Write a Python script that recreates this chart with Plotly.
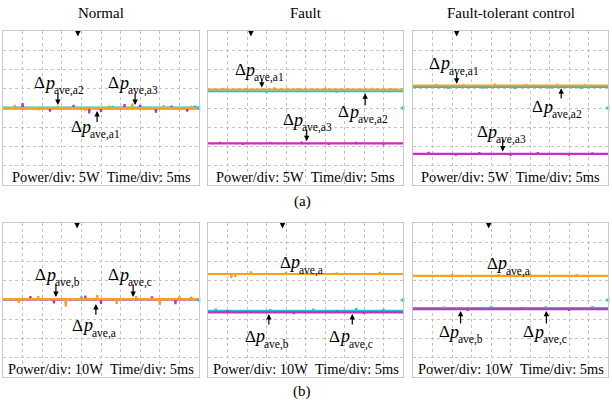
import plotly.graph_objects as go

# Each captured trace: a steady level (W) plus the visible noise spikes as (time ms, value W)
# (a) arm-level average power deviations, 5 W/div
normal_a1_level, normal_a1_spikes = 0.0, [(3, 0.8), (9, -0.6), (14, 0.5), (21, -0.7), (27, 0.6), (33, 1.2), (36, -0.5), (41, 0.7), (45, -0.6), (48, 0.5)]
normal_a2_level, normal_a2_spikes = 0.1, [(28, 0.5), (49, 0.6)]
normal_a3_level, normal_a3_spikes = -0.1, [(5, 1.3), (12, -0.9), (18, 0.8), (22, -1.4), (25, -1.0), (31, 1.0), (35, 0.8), (39, -1.2), (43, 0.6), (47, -0.9)]

fault_a1_level, fault_a1_spikes = 4.8, [(4, 5.2), (10, 5.1), (17, 5.3), (23, 5.1), (30, 5.2), (36, 5.1), (42, 5.2), (47, 5.1)]
fault_a2_level, fault_a2_spikes = 4.35, [(15, 4.0), (33, 4.1)]
fault_a3_level, fault_a3_spikes = -9.2, [(3, -8.9), (9, -9.5), (16, -8.9), (24, -8.8), (31, -9.5), (38, -8.9), (45, -9.4)]

ftc_a1_level, ftc_a1_spikes = 5.85, [(6, 6.2), (13, 6.1), (21, 6.3), (29, 6.1), (37, 6.2), (44, 6.1)]
ftc_a2_level, ftc_a2_spikes = 5.45, [(9, 5.0), (18, 5.1), (26, 5.0), (35, 5.1), (43, 5.0)]
ftc_a3_level, ftc_a3_spikes = -11.9, [(4, -11.4), (11, -12.3), (17, -11.5), (25, -12.4), (32, -11.5), (40, -12.3), (46, -11.6)]

# (b) phase-level average power deviations, 10 W/div
normal_a_level, normal_a_spikes = 0.5, [(4, -1.5), (9, 2.0), (16, -3.5), (24, 2.5), (29, -2.0), (34, 2.0), (40, -2.5), (45, 1.8)]
normal_b_level, normal_b_spikes = 0.5, [(20, 1.8), (48, 1.5)]
normal_c_level, normal_c_spikes = 0.3, [(7, 2.0), (13, -1.8), (21, 2.2), (25, -2.0), (38, 1.8), (44, -2.2)]

fault_a_level, fault_a_spikes = 13.5, [(6, 11.5), (7, 12.0), (11, 14.8), (20, 14.4), (33, 14.2), (44, 14.5)]
fault_b_level, fault_b_spikes = -5.7, [(2, -4.5), (16, -4.8), (27, -4.6), (38, -4.3), (45, -4.7)]
fault_c_level, fault_c_spikes = -6.4, [(5, -5.5), (22, -7.2), (33, -5.6), (40, -7.0)]

ftc_a_level, ftc_a_spikes = 12.5, [(10, 13.5), (22, 13.3), (30, 13.6), (42, 13.4)]
ftc_b_level, ftc_b_spikes = -4.2, [(8, -3.5), (20, -3.3), (34, -3.4), (46, -3.2)]
ftc_c_level, ftc_c_spikes = -4.8, [(14, -5.5), (28, -4.0), (40, -5.6)]

column_titles = ["Normal", "Fault", "Fault-tolerant control"]
row_tags = ["(a)", "(b)"]
power_div = [5, 10]   # W per division for rows (a) and (b)
time_div = 5          # ms per division
trigger_ms = [[19.1, 11.0, 11.2], [18.9, 19.1, 19.4]]

ORANGE = "#F5A21E"
CYAN = "#22C3C6"
MAGENTA = "#C42FC4"
SERIF = "Liberation Serif, Times New Roman, serif"

W, H = 612, 403
col_px = [(3, 199), (208, 403), (413, 608)]
row_px = [(31, 185), (223, 377)]

# traces per panel, drawn bottom-to-top: (level, spikes, colour)
panels = [
    [[(normal_a2_level, normal_a2_spikes, CYAN), (normal_a3_level, normal_a3_spikes, MAGENTA), (normal_a1_level, normal_a1_spikes, ORANGE)],
     [(fault_a2_level, fault_a2_spikes, CYAN), (fault_a1_level, fault_a1_spikes, ORANGE), (fault_a3_level, fault_a3_spikes, MAGENTA)],
     [(ftc_a2_level, ftc_a2_spikes, CYAN), (ftc_a1_level, ftc_a1_spikes, ORANGE), (ftc_a3_level, ftc_a3_spikes, MAGENTA)]],
    [[(normal_b_level, normal_b_spikes, CYAN), (normal_c_level, normal_c_spikes, MAGENTA), (normal_a_level, normal_a_spikes, ORANGE)],
     [(fault_b_level, fault_b_spikes, CYAN), (fault_c_level, fault_c_spikes, MAGENTA), (fault_a_level, fault_a_spikes, ORANGE)],
     [(ftc_b_level, ftc_b_spikes, CYAN), (ftc_c_level, ftc_c_spikes, MAGENTA), (ftc_a_level, ftc_a_spikes, ORANGE)]],
]

# label placement per panel: (subscript, text x ms, text y W, arrow x ms, tail y, tip y or None)
labels = [
    [[("a2", 7.4, 6.6, 14.0, 4.2, 0.8), ("a3", 26.3, 6.6, 33.7, 4.2, 0.8), ("a1", 16.8, -4.9, 24.0, -4.0, -0.8)],
     [("a1", 6.4, 9.9, 13.8, 7.8, 5.3), ("a2", 32.9, -1.0, 40.3, 0.3, 3.8), ("a3", 18.6, -3.1, 25.3, -5.2, -8.6)],
     [("a1", 3.6, 11.6, 11.2, 9.1, 6.3), ("a2", 30.1, 0.3, 38.0, 2.1, 5.1), ("a3", 15.8, -6.2, 23.0, -7.8, -11.3)]],
    [[("b", 7.7, 13.0, 13.5, 8.8, 1.6), ("c", 26.3, 13.0, 33.2, 8.8, 1.6), ("a", 17.1, -13.0, 23.7, -8.4, -2.1)],
     [("a", 17.9, 19.7, None, None, None), ("b", 8.9, -18.7, 15.6, -13.5, -7.3), ("c", 30.6, -18.7, 37.0, -13.5, -7.3)],
     [("a", 18.4, 19.2, None, None, None), ("b", 6.1, -16.6, 12.2, -13.0, -5.7), ("c", 27.8, -16.6, 34.2, -13.0, -5.7)]],
]


def trace_points(level, spikes, t_end):
    """Flat level with narrow spikes at the listed instants."""
    xs, ys = [0.0], [level]
    for t, v in spikes:
        xs += [t - 0.12, t, t + 0.12]
        ys += [level, v, level]
    xs.append(t_end)
    ys.append(level)
    return xs, ys


fig = go.Figure()
annotations = []
layout_axes = {}

for r in range(2):
    for c in range(3):
        k = r * 3 + c + 1
        xs = "" if k == 1 else str(k)
        xa, ya = "x" + xs, "y" + xs
        x0, x1 = col_px[c]
        y0, y1 = row_px[r]
        span = 4 * power_div[r]
        t_end = 10 * time_div
        grid = dict(showgrid=True, gridcolor="#c4c4c4", griddash="dot", gridwidth=1,
                    showline=True, linecolor="#c9c9c9", linewidth=1, mirror=True,
                    zeroline=False, showticklabels=False, ticks="", fixedrange=True)
        layout_axes["xaxis" + xs] = dict(domain=[x0 / W, x1 / W], range=[0, t_end],
                                         dtick=time_div, anchor=ya, **grid)
        layout_axes["yaxis" + xs] = dict(domain=[1 - y1 / H, 1 - y0 / H], range=[-span, span],
                                         dtick=power_div[r], anchor=xa, **grid)

        for level, spikes, col in panels[r][c]:
            px, py = trace_points(level, spikes, t_end)
            fig.add_trace(go.Scatter(x=px, y=py, mode="lines", xaxis=xa, yaxis=ya,
                                     line=dict(color=col, width=2.2), hoverinfo="skip",
                                     showlegend=False))
        # trigger position marker
        fig.add_trace(go.Scatter(x=[trigger_ms[r][c]], y=[span * 0.93], mode="markers",
                                 xaxis=xa, yaxis=ya, hoverinfo="skip", showlegend=False,
                                 marker=dict(symbol="arrow-down", size=6, color="black")))
        # channel ground-level marker on the right edge
        fig.add_trace(go.Scatter(x=[t_end], y=[0], mode="markers", xaxis=xa, yaxis=ya,
                                 hoverinfo="skip", showlegend=False, cliponaxis=False,
                                 marker=dict(symbol="triangle-left", size=5, color=CYAN)))

        for sub, tx, ty, axx, tail, tip in labels[r][c]:
            common = dict(x=tx, y=ty, xref=xa, yref=ya, showarrow=False,
                          xanchor="left", yanchor="middle")
            annotations.append(dict(common, text="Δ",
                                    font=dict(family=SERIF, size=17, color="black")))
            annotations.append(dict(common, text="p", xshift=9.5,
                                    font=dict(family=SERIF, size=18, color="black", style="italic")))
            annotations.append(dict(common, text="ave," + sub, xshift=19.5, yshift=-8,
                                    font=dict(family=SERIF, size=11.5, color="black")))
            if axx is not None:
                annotations.append(dict(x=axx, y=tip, ax=axx, ay=tail, xref=xa, yref=ya,
                                        axref=xa, ayref=ya, text="", showarrow=True,
                                        arrowhead=2, arrowsize=0.9, arrowwidth=1.2,
                                        arrowcolor="black"))

        annotations.append(dict(x=t_end / 2, y=-span * 0.89, xref=xa, yref=ya,
                                text=f"Power/div: {power_div[r]}W\u00a0\u00a0Time/div: {time_div}ms",
                                showarrow=False, xanchor="center", yanchor="middle",
                                font=dict(family=SERIF, size=14.4, color="black")))

for c, title in enumerate(column_titles):
    cx = (col_px[c][0] + col_px[c][1]) / 2 / W
    annotations.append(dict(x=cx, y=1 - 13 / H, xref="paper", yref="paper", text=title,
                            showarrow=False, xanchor="center", yanchor="middle",
                            font=dict(family=SERIF, size=15, color="black")))

for r, tag in enumerate(row_tags):
    annotations.append(dict(x=302 / W, y=1 - [202, 391][r] / H, xref="paper", yref="paper",
                            text=tag, showarrow=False, xanchor="center", yanchor="middle",
                            font=dict(family=SERIF, size=15, color="black")))

fig.update_layout(width=W, height=H, margin=dict(l=0, r=0, t=0, b=0),
                  paper_bgcolor="white", plot_bgcolor="white",
                  annotations=annotations, **layout_axes)

fig.write_html("out.html", config={"displayModeBar": False})
